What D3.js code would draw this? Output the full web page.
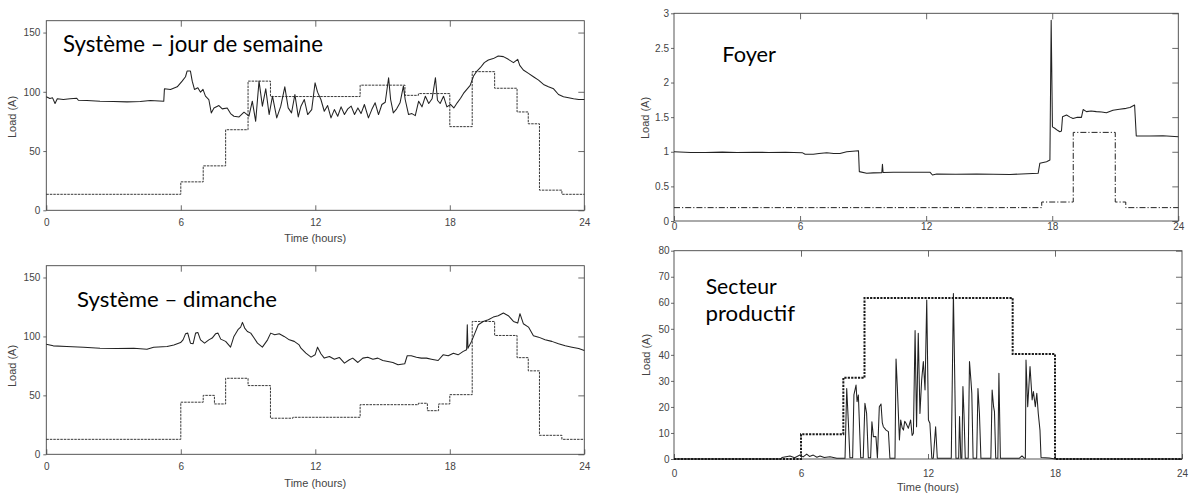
<!DOCTYPE html>
<html>
<head>
<meta charset="utf-8">
<script src="https://cdn.jsdelivr.net/npm/d3@7"></script>
<style>
  body { margin: 0; background: #fff; }
</style>
</head>
<body>
<script>
// ---- data ----
var hourTicks = [0, 6, 12, 18, 24];

// weekday system load [hour, A]
var weekdayLoad = [
  [0,95.8],[0.16,94.4],[0.28,94.9],[0.39,90.1],[0.49,94.1],[0.76,93.5],[1.06,94.1],[1.36,94.6],[1.43,92.9],
  [1.81,92.7],[2.4,92.1],[3.0,91.8],[3.6,91.5],[4.19,91.8],[4.64,92.7],[5.24,92.1],[5.27,102.5],[5.54,102],
  [5.84,104.2],[6.06,109],[6.21,112.7],[6.28,117.5],[6.43,117.5],[6.51,109],[6.61,102],[6.76,103.4],[6.88,99.7],
  [6.99,102],[7.1,96.3],[7.25,93.5],[7.36,82.2],[7.48,86.4],[7.7,88.4],[7.85,85.6],[8.07,86.4],[8.22,81.6],
  [8.37,79.4],[8.6,78.8],[8.82,82.8],[9.04,79.4],[9.19,92.1],[9.34,75.1],[9.49,109],[9.64,87.9],[9.79,102.5],
  [9.94,80.8],[10.09,96.3],[10.28,78],[10.46,87.9],[10.64,104.2],[10.79,86.4],[10.94,82.2],[11.09,97.7],
  [11.24,78.8],[11.36,87.9],[11.51,93.5],[11.66,80.8],[11.84,85],[11.99,107.6],[12.1,99.7],[12.25,93.5],
  [12.4,83.6],[12.55,88.4],[12.7,78],[12.85,85],[13.0,79.4],[13.15,87.3],[13.3,80.8],[13.45,85.6],[13.6,87.9],
  [13.75,80.8],[13.9,86.4],[14.04,81.6],[14.19,89.3],[14.37,78],[14.52,85],[14.67,90.7],[14.82,80.8],[14.97,89.3],
  [15.12,91.2],[15.27,111.9],[15.36,93.5],[15.48,82.2],[15.63,85.6],[15.78,90.7],[15.93,104.8],[16.01,93.5],
  [16.16,80.8],[16.31,81.6],[16.46,79.9],[16.61,92.1],[16.76,87.3],[16.91,96.3],[17.06,90.1],[17.21,94.1],
  [17.36,111.9],[17.45,92.9],[17.57,90.1],[17.72,96.3],[17.87,87.3],[18.03,89.3],[18.18,86.4],[18.33,90.7],
  [18.48,94.6],[18.61,98.6],[18.76,102],[18.91,105.4],[19.06,113.3],[19.21,117.5],[19.36,120.3],[19.54,124.6],
  [19.72,126.8],[19.94,128],[20.16,130.2],[20.39,129.7],[20.61,127.4],[20.84,124.6],[21.03,127.4],[21.12,122.3],
  [21.28,118.4],[21.51,115.5],[21.73,112.7],[21.96,109.9],[22.18,106.2],[22.4,104.2],[22.63,102.5],[22.85,97.7],
  [23.07,95.8],[23.3,94.9],[23.52,94.1],[23.75,93.5],[24,93.5]
];
var weekdayStepHours = [0, 6, 7, 8, 9, 10, 14, 16, 16.6, 18, 19, 20, 21, 21.5, 22, 23, 24];
var weekdayStepLoad  = [13.5, 24, 37.5, 68, 109, 96, 105.6, 97, 98.5, 70.6, 117, 103, 83, 73, 17, 13.5, 13.5];

// sunday system load [hour, A]
var sundayLoad = [
  [0,93.4],[0.31,92],[0.91,91.4],[1.66,90.9],[2.4,90],[3.15,89.7],[3.9,90],[4.49,89.2],[4.79,90.9],[5.39,91.4],
  [5.69,92.8],[5.99,94.8],[6.1,97.1],[6.21,102.2],[6.31,102.8],[6.43,94.3],[6.55,93.8],[6.66,102.8],[6.76,103.4],
  [6.88,97.1],[7.06,94.3],[7.25,97.1],[7.4,98.6],[7.55,102.2],[7.66,102.8],[7.78,97.7],[8.0,95.8],[8.22,90.9],
  [8.37,100],[8.55,105.7],[8.67,107.9],[8.75,111.9],[8.85,107.1],[8.97,104.2],[9.12,102.8],[9.27,98.6],[9.42,94.3],
  [9.64,90.9],[9.87,97.1],[10.01,102.8],[10.19,101.4],[10.39,102.2],[10.61,100],[10.84,97.1],[11.06,95.8],
  [11.28,92.8],[11.36,90],[11.58,85.8],[11.81,82.4],[11.99,84.4],[12.1,90.9],[12.25,85.3],[12.4,81.6],[12.63,83],
  [12.85,80.7],[13.07,82.2],[13.3,77.3],[13.52,80.2],[13.67,81.6],[13.9,77.9],[14.12,81.6],[14.34,82.4],
  [14.57,80.7],[14.79,81.6],[15.01,79.6],[15.24,78.8],[15.46,77.9],[15.69,75.9],[15.99,76.8],[16.1,83.6],
  [16.28,83.6],[16.51,82.4],[16.73,81.6],[16.96,81.6],[17.18,80.7],[17.48,79.6],[17.7,84.4],[17.93,83.6],
  [18.16,85.8],[18.37,84.4],[18.6,87.3],[18.75,88.7],[18.78,109.9],[18.81,90],[18.97,95.8],[19.12,102.8],
  [19.27,109.9],[19.49,112.7],[19.72,114.2],[19.94,116.4],[20.16,117.6],[20.39,119.8],[20.61,117.6],[20.84,112.7],
  [21.03,111.3],[21.13,119.3],[21.28,110.8],[21.51,107.9],[21.73,100.6],[21.96,99.4],[22.25,97.2],[22.55,95.8],
  [22.85,93.8],[23.15,92.1],[23.45,90.9],[23.75,89.8],[24,88.1]
];
var sundayStepHours = [0, 6, 7, 7.5, 8, 9, 10, 11, 14, 16.6, 17, 17.5, 18, 19, 20, 21, 21.5, 22, 23, 24];
var sundayStepLoad  = [12.7, 44.2, 50, 42.7, 64.5, 58.3, 30.6, 31.4, 42.1, 43.3, 37, 42.7, 50.6, 112.7, 100.8, 82, 70.8, 16.1, 12.7, 12.7];

// household (Foyer) load [hour, A]
var foyerLoad = [
  [0,1.0],[0.8,0.99],[1.5,0.99],[2.3,0.995],[3,0.99],[3.8,0.993],[4.5,0.99],[5.3,0.992],[6.1,0.987],[6.24,0.963],
  [6.63,0.965],[6.9,0.975],[7.27,0.985],[7.6,0.975],[7.9,0.975],[8.22,1.0],[8.78,1.016],[8.82,0.713],[9.17,0.689],
  [9.49,0.695],[9.89,0.698],[9.92,0.82],[9.95,0.7],[10.44,0.703],[11.1,0.705],[11.71,0.703],[12.19,0.703],
  [12.3,0.664],[12.5,0.679],[13.4,0.675],[14.4,0.679],[15.2,0.676],[15.99,0.672],[16.8,0.682],[17.33,0.689],
  [17.41,0.833],[17.73,0.857],[17.89,0.881],[17.95,2.9],[18.01,1.36],[18.12,1.34],[18.25,1.31],[18.36,1.29],
  [18.44,1.3],[18.49,1.507],[18.68,1.53],[18.85,1.5],[18.99,1.48],[19.2,1.5],[19.39,1.497],[19.47,1.61],
  [19.63,1.58],[19.85,1.59],[20.1,1.58],[20.35,1.575],[20.58,1.565],[20.89,1.6],[21.2,1.613],[21.52,1.627],
  [21.7,1.64],[21.92,1.675],[22.0,1.228],[22.63,1.228],[23.27,1.232],[24,1.218]
];
var foyerStepHours = [0, 17.5, 19, 21, 21.5, 24];
var foyerStepLoad  = [0.193, 0.274, 1.28, 0.274, 0.193, 0.193];

// productive sector load [hour, A]
var productifLoad = [
  [0,0],[5.05,0],[5.1,0.6],[5.48,1.15],[5.7,0.5],[5.95,1.5],[6.1,0.8],[6.27,1.9],[6.4,1.0],[6.58,1.5],[6.75,0.7],
  [6.9,1.15],[7.1,0.6],[7.37,0.9],[7.69,0.3],[8.08,0.3],[8.16,27.1],[8.24,13.7],[8.31,0.5],[8.44,0.5],[8.5,24.6],
  [8.6,28.4],[8.65,22],[8.71,24.6],[8.82,0.5],[8.94,0.5],[9.02,21.4],[9.1,17.5],[9.18,0.5],[9.29,0.5],[9.35,14.3],
  [9.42,8.6],[9.54,8.6],[9.61,0.4],[9.7,20.1],[9.78,21.1],[9.84,14],[9.89,12.4],[10.02,11.1],[10.13,10.5],
  [10.2,0.3],[10.44,0.3],[10.49,38.4],[10.55,27.8],[10.65,7.3],[10.71,15],[10.78,12],[10.84,11.1],[10.9,14.5],
  [10.96,13.7],[11.07,11.8],[11.18,15],[11.25,9],[11.31,9.9],[11.39,49.3],[11.46,12.4],[11.54,48.3],[11.62,17.5],
  [11.7,30.3],[11.78,37.4],[11.86,26.5],[11.94,61.1],[12.02,15],[12.09,13.7],[12.18,0.3],[12.25,0.3],[12.36,12.4],
  [12.44,0.3],[13.1,0.3],[13.2,63.6],[13.26,32.9],[13.32,0.3],[13.45,0.3],[13.49,16.3],[13.55,0.3],[13.6,0.3],
  [13.65,27.8],[13.7,17.5],[13.76,0.3],[13.9,0.3],[13.96,37.4],[14.03,30],[14.07,25.2],[14.13,0.3],[14.3,0.3],
  [14.36,27.1],[14.43,17.5],[14.5,0.3],[14.97,0.3],[15.03,26.5],[15.1,20],[15.14,18.2],[15.2,0.3],[15.3,0.3],
  [15.35,32.9],[15.42,0.3],[16.32,0.3],[16.44,1.2],[16.55,0.3],[16.6,0.3],[16.63,38],[16.71,20.1],[16.82,35.5],
  [16.92,22.7],[16.98,25.9],[17.07,20.1],[17.14,25.2],[17.21,17.5],[17.29,11.1],[17.34,0.6],[17.73,0.4],[18,0],[24,0]
];
var productifStepHours = [0, 6, 8, 9, 16, 18, 24];
var productifStepLoad  = [0, 9.5, 31.2, 61.8, 40.3, 0, 0];

var svgWidth = 1189;
var svgHeight = 493;
var axisFont = "Liberation Sans, Arial, sans-serif";

var svg = d3.select("body")
            .append("svg")
            .attr("width", svgWidth)
            .attr("height", svgHeight);

function styleAxis(sel) {
  sel.attr("font-family", axisFont).attr("font-size", 10);
  sel.select(".domain").remove();
  sel.selectAll(".tick line").attr("stroke", "#444").attr("stroke-width", 0.8);
  sel.selectAll(".tick text").attr("fill", "#444");
}

function drawPanel(p) {
  var xScale = d3.scaleLinear().domain([0, 24]).range([p.left, p.right]);
  var yScale = d3.scaleLinear().domain([0, p.yMax]).range([p.bottom, p.top]);
  var g = svg.append("g");

  g.append("g")
    .attr("transform", `translate(0, ${p.bottom})`)
    .call(d3.axisBottom(xScale).tickValues(hourTicks).tickSize(-5).tickPadding(p.xPad))
    .call(styleAxis);

  g.append("g")
    .attr("transform", `translate(0, ${p.top})`)
    .call(d3.axisTop(xScale).tickValues([6, 12, 18]).tickSize(-6).tickFormat(""))
    .call(styleAxis);

  g.append("g")
    .attr("transform", `translate(${p.left}, 0)`)
    .call(d3.axisLeft(yScale).tickValues(p.yTicks).tickSize(3).tickPadding(p.yPad).tickFormat(d3.format(p.yFmt)))
    .call(styleAxis);

  g.append("g")
    .attr("transform", `translate(${p.right}, 0)`)
    .call(d3.axisRight(yScale).tickValues(p.yTicks).tickSize(-6).tickFormat(""))
    .call(styleAxis);

  g.append("rect")
    .attr("x", p.left).attr("y", p.top)
    .attr("width", p.right - p.left).attr("height", p.bottom - p.top)
    .attr("fill", "none").attr("stroke", "#444").attr("stroke-width", 0.9);

  var line = d3.line()
    .x(d => xScale(d[0]))
    .y(d => yScale(d[1]));

  var stepLine = d3.line()
    .curve(d3.curveStepAfter)
    .x(d => xScale(d[0]))
    .y(d => yScale(d[1]));

  var steps = p.stepHours.map((h, i) => [h, p.stepLoad[i]]);

  g.append("path")
    .datum(p.load)
    .attr("d", line)
    .attr("fill", "none")
    .attr("stroke", "#222")
    .attr("stroke-width", 1.05)
    .attr("stroke-linejoin", "round");

  g.append("path")
    .datum(steps)
    .attr("d", stepLine)
    .attr("fill", "none")
    .attr("stroke", p.stepColor)
    .attr("stroke-width", p.stepWidth)
    .attr("stroke-dasharray", p.stepDash);

  g.append("text")
    .attr("transform", `translate(${p.yLabelX}, ${p.yLabelY}) rotate(-90)`)
    .attr("text-anchor", "middle")
    .attr("fill", "#444")
    .attr("font-family", axisFont)
    .attr("font-size", 11)
    .text("Load (A)");

  if (p.xLabelY) {
    g.append("text")
      .attr("x", (p.left + p.right) / 2)
      .attr("y", p.xLabelY)
      .attr("text-anchor", "middle")
      .attr("fill", "#444")
      .attr("font-family", axisFont)
      .attr("font-size", 11)
      .text("Time (hours)");
  }

  p.titles.forEach(function(t) {
    g.append("text")
      .attr("x", t.x)
      .attr("y", t.y)
      .attr("textLength", t.len)
      .attr("lengthAdjust", "spacingAndGlyphs")
      .attr("font-family", "Lato, 'Open Sans', sans-serif")
      .attr("font-size", t.size)
      .attr("fill", "#000")
      .text(t.text);
  });
}

drawPanel({
  left: 46.3, right: 584.3, top: 20.7, bottom: 210.3,
  yMax: 160, yTicks: [0, 50, 100, 150], yFmt: "d",
  xPad: 8.5, yPad: 3, yLabelX: 16, yLabelY: 117, xLabelY: 242,
  load: weekdayLoad, stepHours: weekdayStepHours, stepLoad: weekdayStepLoad,
  stepColor: "#222", stepWidth: 0.9, stepDash: "2.5,1",
  titles: [{ text: "Système – jour de semaine", x: 63, y: 52, len: 260, size: 23 }]
});

drawPanel({
  left: 46.3, right: 584.3, top: 265.7, bottom: 454.3,
  yMax: 160, yTicks: [0, 50, 100, 150], yFmt: "d",
  xPad: 8.5, yPad: 3, yLabelX: 16, yLabelY: 366, xLabelY: 487,
  load: sundayLoad, stepHours: sundayStepHours, stepLoad: sundayStepLoad,
  stepColor: "#222", stepWidth: 0.9, stepDash: "2.5,1",
  titles: [{ text: "Système – dimanche", x: 77, y: 306.7, len: 200, size: 21 }]
});

drawPanel({
  left: 674, right: 1178.3, top: 13.3, bottom: 221,
  yMax: 3, yTicks: [0, 0.5, 1, 1.5, 2, 2.5, 3], yFmt: "~g",
  xPad: 1.5, yPad: 2, yLabelX: 649, yLabelY: 118, xLabelY: null,
  load: foyerLoad, stepHours: foyerStepHours, stepLoad: foyerStepLoad,
  stepColor: "#222", stepWidth: 1, stepDash: "6,2,1.2,2",
  titles: [{ text: "Foyer", x: 722.3, y: 61.7, len: 53.7, size: 22 }]
});

drawPanel({
  left: 674, right: 1182, top: 250.7, bottom: 459,
  yMax: 80, yTicks: [0, 10, 20, 30, 40, 50, 60, 70, 80], yFmt: "d",
  xPad: 10.5, yPad: 1.5, yLabelX: 650, yLabelY: 355, xLabelY: 490.5,
  load: productifLoad, stepHours: productifStepHours, stepLoad: productifStepLoad,
  stepColor: "#1a1a1a", stepWidth: 2, stepDash: "2.2,1.2",
  titles: [
    { text: "Secteur", x: 705.7, y: 294, len: 71, size: 21 },
    { text: "productif", x: 705.5, y: 321, len: 89.5, size: 21 }
  ]
});
</script>
</body>
</html>
